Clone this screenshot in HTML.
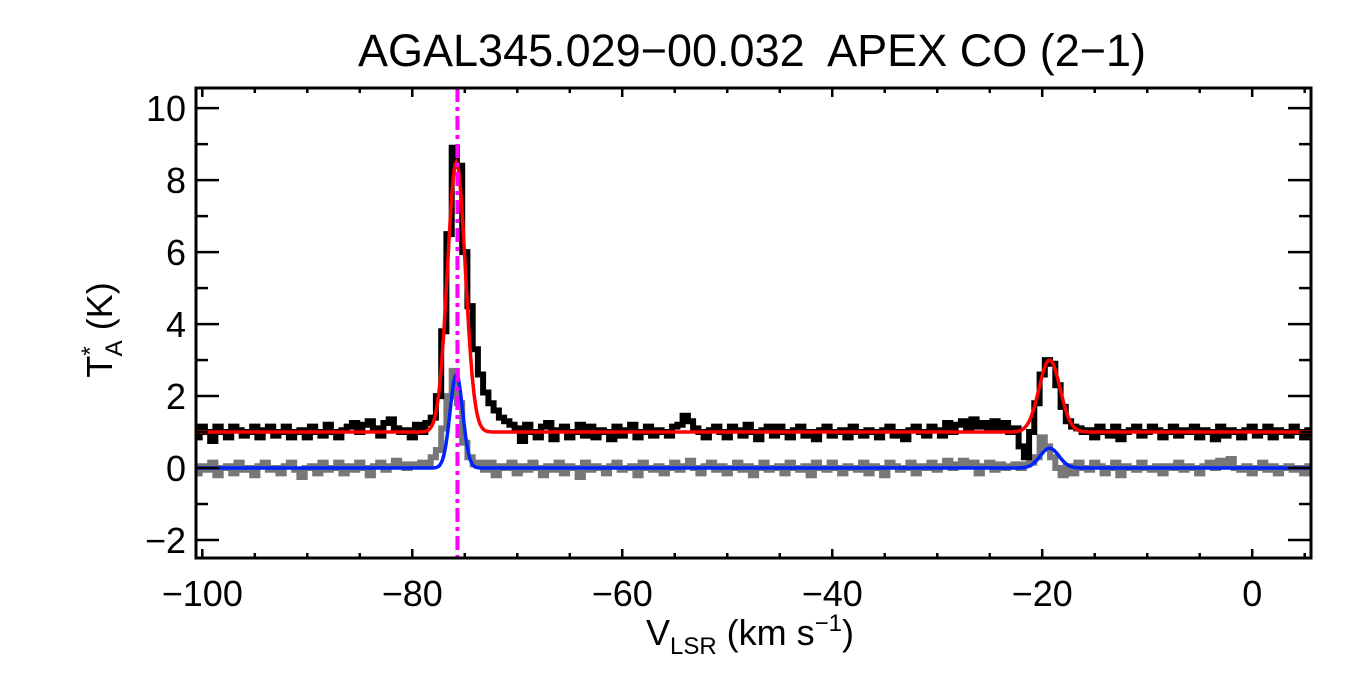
<!DOCTYPE html>
<html><head><meta charset="utf-8"><style>
html,body{margin:0;padding:0;background:#fff;}
svg{display:block;font-family:"Liberation Sans",Arial,sans-serif;}
</style></head><body>
<svg id="chart" width="1350" height="675" viewBox="0 0 1350 675" xmlns="http://www.w3.org/2000/svg">
<rect width="1350" height="675" fill="#fff"/>
<text x="752" y="66" font-size="45" text-anchor="middle" style="white-space:pre">AGAL345.029−00.032  APEX CO (2−1)</text>
<g id="plot"></g>
<text x="750" y="645" font-size="36" text-anchor="middle">V<tspan font-size="24" dy="9">LSR</tspan><tspan dy="-9"> (km s</tspan><tspan font-size="24" dy="-14">−1</tspan><tspan dy="14">)</tspan></text>
<text transform="translate(112,330) rotate(-90)" font-size="36" text-anchor="middle">T<tspan font-size="24" dy="-14">*</tspan><tspan font-size="24" dx="-10" dy="24">A</tspan><tspan dy="-10"> (K)</tspan></text>
</svg>
<script>
const vStart = -100.5;
const vStep = 0.5;
const blackSpec = [
0.85,1.15,1.0,0.75,1.15,1.0,0.85,1.15,1.05,0.9,
1.0,1.15,0.85,1.05,1.15,0.9,1.0,1.15,0.85,1.0,
1.05,0.85,1.15,1.0,0.9,1.2,1.0,0.85,1.05,1.15,
1.25,1.0,1.2,1.3,1.1,0.9,1.25,1.35,1.1,1.0,
1.05,0.85,1.2,1.0,1.25,1.4,2.0,3.8,6.5,8.9,
8.4,6.0,4.5,3.3,2.6,2.1,1.8,1.6,1.4,1.3,
1.2,1.1,0.75,1.2,1.0,0.85,1.15,1.25,0.8,1.05,
1.15,0.85,1.0,1.2,0.9,1.15,0.85,1.05,1.0,0.8,
1.15,0.9,1.05,1.2,0.85,1.0,1.15,0.9,1.05,1.0,
0.9,1.15,1.2,1.45,1.3,1.1,1.0,0.85,1.05,1.15,
1.0,0.85,1.15,1.05,0.9,1.2,1.0,0.8,1.05,1.15,
0.9,1.15,1.0,0.85,1.05,1.15,0.9,1.0,0.8,1.05,
1.15,0.9,1.0,1.05,0.85,1.15,1.0,0.9,1.05,1.0,
0.85,1.05,1.15,0.9,1.0,0.8,1.05,1.15,1.0,0.9,
1.15,1.05,0.9,1.25,1.0,1.2,1.3,1.1,1.35,1.15,
1.25,1.1,1.3,1.05,1.25,1.0,1.1,0.6,0.3,1.0,
1.8,2.6,3.0,2.9,2.3,1.7,1.3,1.15,1.1,1.0,
1.05,0.85,1.15,1.0,0.9,1.15,0.8,1.0,1.05,1.15,
0.9,1.0,1.15,1.05,0.85,1.0,1.15,0.9,1.05,1.0,
1.15,0.85,1.05,1.0,0.8,1.15,0.9,1.05,1.0,0.85,
1.05,1.15,0.9,1.0,1.15,0.85,1.05,1.0,0.9,1.15,
1.0,0.85,1.05];
const graySpec = [
-0.15,0.05,-0.05,0.15,-0.2,0.0,0.05,-0.15,0.15,-0.05,
0.0,-0.2,0.05,0.15,-0.05,0.0,-0.15,0.05,0.15,-0.05,
-0.25,0.0,0.05,-0.15,0.15,-0.05,0.0,0.15,-0.15,0.05,
-0.05,0.15,0.0,-0.2,0.05,0.15,-0.05,0.05,0.2,0.1,
0.0,0.1,0.05,0.15,0.1,0.3,0.5,1.1,2.0,2.7,
1.8,0.7,0.3,0.1,0.15,-0.05,0.15,-0.2,0.05,0.0,
0.15,-0.15,0.05,-0.05,0.15,0.0,-0.2,0.05,-0.05,0.15,
-0.15,0.05,0.0,-0.25,0.15,-0.05,0.05,0.0,-0.15,0.05,
0.15,-0.05,0.0,0.05,-0.2,0.15,0.0,-0.05,0.05,-0.15,
0.0,0.15,-0.05,0.05,0.2,0.0,-0.15,0.05,0.15,-0.05,
0.05,-0.15,0.0,0.15,-0.05,0.05,-0.2,0.0,0.15,-0.05,
0.0,0.05,-0.15,0.15,0.0,-0.05,0.05,-0.2,0.15,0.0,
-0.05,0.15,0.0,-0.15,0.05,0.0,-0.05,0.15,-0.15,0.05,
0.0,-0.2,0.15,0.05,-0.05,0.0,0.15,-0.15,0.05,0.0,
0.15,-0.05,0.05,0.2,0.0,0.1,0.2,0.05,0.15,-0.15,
0.05,0.15,-0.05,0.1,0.0,0.05,0.1,0.0,0.1,0.15,
0.3,0.85,0.6,0.3,0.0,-0.2,0.05,-0.15,0.15,0.0,
-0.05,0.15,0.05,-0.15,0.0,0.15,-0.2,0.05,0.0,-0.05,
0.15,0.0,-0.05,0.05,-0.15,0.05,0.0,0.15,-0.05,0.05,
0.0,-0.15,0.05,0.15,0.0,0.2,0.05,0.25,0.0,-0.05,
0.05,-0.15,0.0,0.15,-0.05,0.05,-0.15,0.0,0.05,-0.05,
0.0,-0.15,0.05];
const redBase = 1.0;
const redCenters = [-75.8, -19.3];
const redAmps = [7.5, 2.0];
const redSigmas = [0.85, 1.0];
const blueBase = 0.0;
const blueCenters = [-75.8, -19.3];
const blueAmps = [2.6, 0.55];
const blueSigmas = [0.6, 0.9];
const markerV = -75.7;
const xTicks = [-100,-80,-60,-40,-20,0];
const xTickLabels = ["−100","−80","−60","−40","−20","0"];
const yTicks = [-2,0,2,4,6,8,10];
const yTickLabels = ["−2","0","2","4","6","8","10"];

const L=196,R=1311,T=88,B=558;
const xMin=-100.6,xMax=5.6,yMin=-2.5,yMax=10.56;
const X=v=>L+(v-xMin)/(xMax-xMin)*(R-L);
const Y=t=>B-(t-yMin)/(yMax-yMin)*(B-T);
const NS="http://www.w3.org/2000/svg";
const plot=document.getElementById('plot');
function mk(tag,attrs,parent){const e=document.createElementNS(NS,tag);for(const k in attrs)e.setAttribute(k,attrs[k]);(parent||plot).appendChild(e);return e;}

const defs=mk('defs',{});
const cp=mk('clipPath',{id:'clip'},defs);
mk('rect',{x:L,y:T,width:R-L,height:B-T},cp);
const g=mk('g',{'clip-path':'url(#clip)'});

function stepPath(arr){
  let d='';
  arr.forEach((t,i)=>{const v0=vStart+i*vStep-vStep/2,v1=v0+vStep;
    d+=(i===0?'M':'L')+X(v0).toFixed(1)+','+Y(t).toFixed(1)+'L'+X(v1).toFixed(1)+','+Y(t).toFixed(1);});
  return d;
}
function fitPath(base,c,a,s){
  let d='';
  for(let v=xMin;v<=xMax;v+=0.1){let t=base;for(let k=0;k<c.length;k++)t+=a[k]*Math.exp(-0.5*((v-c[k])/s[k])**2);
    d+=(d?'L':'M')+X(v).toFixed(1)+','+Y(t).toFixed(1);}
  return d;
}
const gs=mk('path',{d:stepPath(graySpec),fill:'none',stroke:'#777',"stroke-width":6},g);


const bs=mk('path',{d:stepPath(blackSpec),fill:'none',stroke:'#000',"stroke-width":6},g);


const rf=mk('path',{d:fitPath(redBase,redCenters,redAmps,redSigmas),fill:'none',stroke:'#f00',"stroke-width":3.5},g);


const bf=mk('path',{d:fitPath(blueBase,blueCenters,blueAmps,blueSigmas),fill:'none',stroke:'#0022ff',"stroke-width":3.5},g);


const mv=mk('line',{x1:X(markerV),x2:X(markerV),y1:T,y2:B,stroke:'#f0f','stroke-width':4,'stroke-dasharray':'14,5,4,5'},g);



const fr=mk('rect',{x:L,y:T,width:R-L,height:B-T,fill:'none',stroke:'#000','stroke-width':3});


for(let v=-100;v<=5;v+=5){const maj=v%20===0;const len=maj?9:5;
  mk('line',{x1:X(v),x2:X(v),y1:B,y2:B-len,stroke:'#000','stroke-width':2.5});
  mk('line',{x1:X(v),x2:X(v),y1:T,y2:T+len,stroke:'#000','stroke-width':2.5});}
xTicks.forEach((v,i)=>{const t=mk('text',{x:X(v),y:606,'font-size':36,'text-anchor':'middle'});t.textContent=xTickLabels[i];
  
  });
for(let y=-2;y<=10;y+=1){const maj=y%2===0;const len=maj?23:12;
  mk('line',{x1:L,x2:L+len,y1:Y(y),y2:Y(y),stroke:'#000','stroke-width':2.5});
  mk('line',{x1:R,x2:R-len,y1:Y(y),y2:Y(y),stroke:'#000','stroke-width':2.5});}
yTicks.forEach((v,i)=>{const t=mk('text',{x:186,y:Y(v)+13,'font-size':36,'text-anchor':'end'});t.textContent=yTickLabels[i];
  
  });
</script>
</body></html>
